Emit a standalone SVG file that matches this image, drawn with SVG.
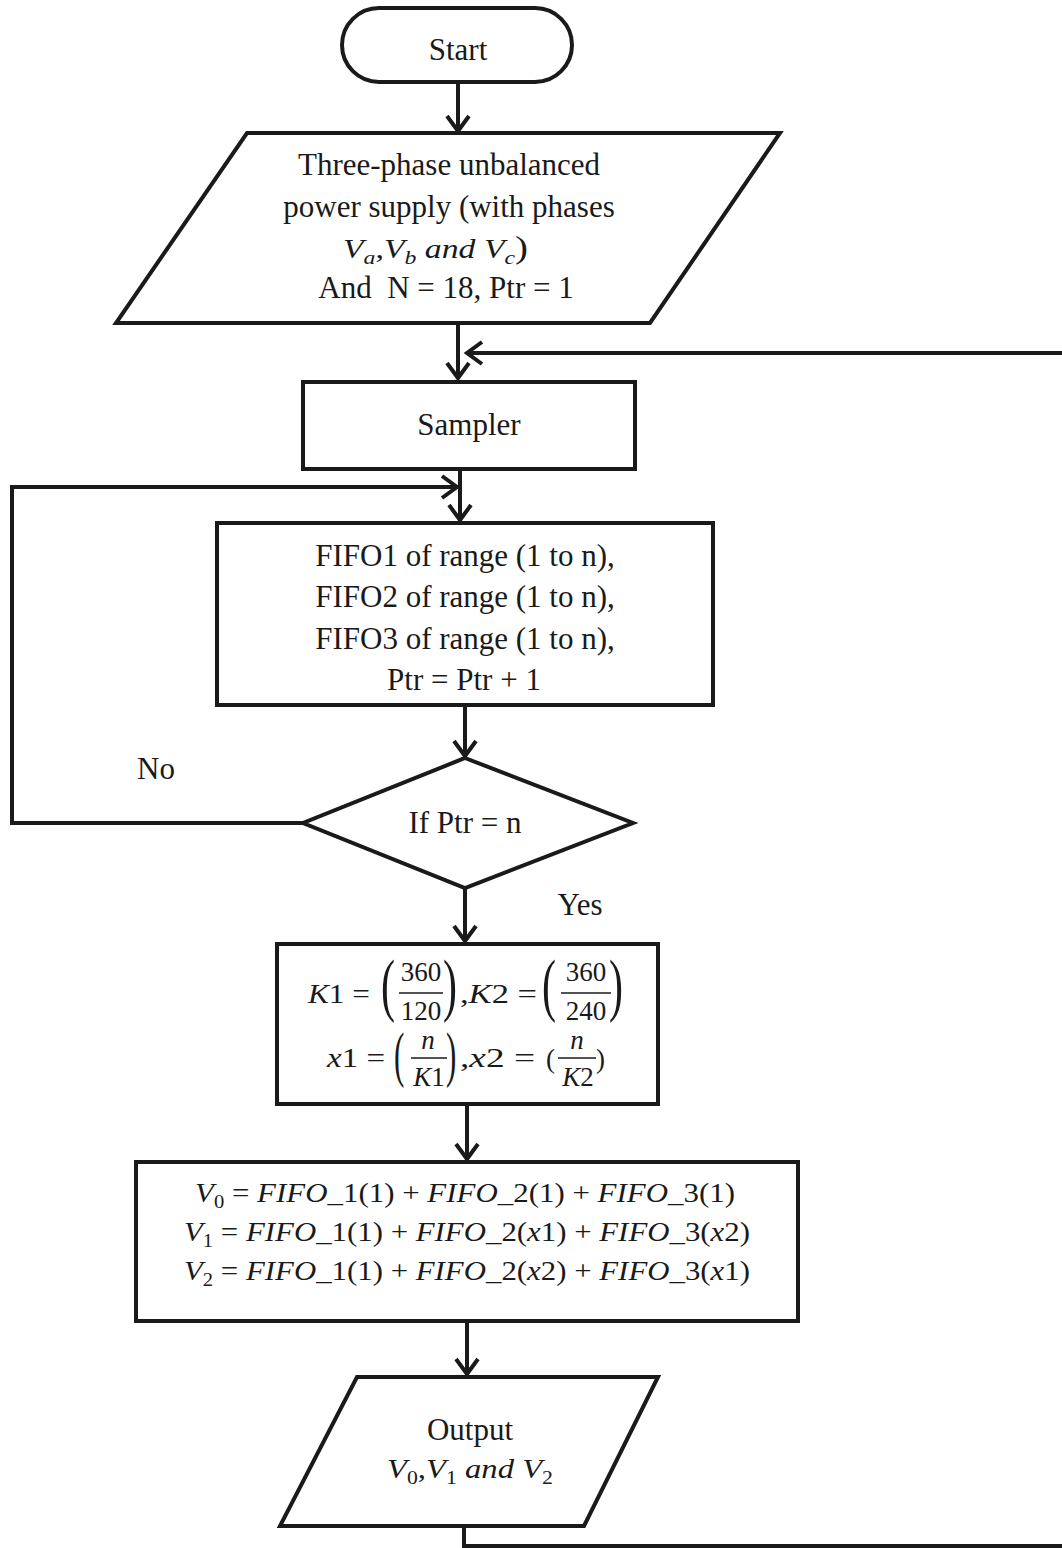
<svg xmlns="http://www.w3.org/2000/svg" width="1062" height="1548" viewBox="0 0 1062 1548">
<defs>
<style>
.sh{fill:#fff;stroke:#1a1a1a;stroke-width:4;stroke-linejoin:miter}
.cn{fill:none;stroke:#1a1a1a;stroke-width:4}
.t{font-family:"Liberation Serif","Times New Roman",serif;font-size:31px;fill:#1a1a1a;text-anchor:middle}
.m{font-family:"Liberation Serif","Times New Roman",serif;font-size:27px;fill:#1a1a1a}
.p1{font-family:"Liberation Serif","Times New Roman",serif;font-size:70px;fill:#1a1a1a}
.p2{font-family:"Liberation Serif","Times New Roman",serif;font-size:62px;fill:#1a1a1a}
.i{font-style:italic}
.c{text-anchor:middle}
.bar{stroke:#1a1a1a;stroke-width:1.6}
</style>
<marker id="ah" viewBox="-20 -14 24 28" markerWidth="24" markerHeight="28" refX="0" refY="0" orient="auto" markerUnits="userSpaceOnUse">
<path d="M-15,-11 L0,0 L-15,11" fill="none" stroke="#1a1a1a" stroke-width="4"/>
</marker>
</defs>
<rect width="1062" height="1548" fill="#fff"/>

<g id="connectors">
<path class="cn" d="M458,82 V131" marker-end="url(#ah)"/>
<path class="cn" d="M458,323 V378" marker-end="url(#ah)"/>
<path class="cn" d="M464,1526 V1546 H1080 V353 H467" marker-end="url(#ah)"/>
<path class="cn" d="M460,469 V520" marker-end="url(#ah)"/>
<path class="cn" d="M303,823 H12 V487 H457" marker-end="url(#ah)"/>
<path class="cn" d="M465,705 V756" marker-end="url(#ah)"/>
<path class="cn" d="M465,888 V941" marker-end="url(#ah)"/>
<path class="cn" d="M467,1104 V1159" marker-end="url(#ah)"/>
<path class="cn" d="M467,1321 V1374" marker-end="url(#ah)"/>
</g>

<g id="start">
<rect class="sh" x="342" y="8" width="230" height="74" rx="37"/>
<text class="t" x="458" y="60">Start</text>
</g>

<g id="input">
<polygon class="sh" points="247,133 780,133 650,323 116,323"/>
<text class="t" x="449" y="175">Three-phase unbalanced</text>
<text class="t" x="449" y="217">power supply (with phases</text>
<text class="m" x="343" y="258" textLength="185" lengthAdjust="spacingAndGlyphs"><tspan class="i">V</tspan><tspan class="i" font-size="19" dy="6">a</tspan><tspan dy="-6">,</tspan><tspan class="i">V</tspan><tspan class="i" font-size="19" dy="6">b</tspan><tspan class="i" dy="-6"> and V</tspan><tspan class="i" font-size="19" dy="6">c</tspan><tspan dy="-6" font-size="31">)</tspan></text>
<text class="t" x="446" y="298" xml:space="preserve">And  N = 18, Ptr = 1</text>
</g>

<g id="sampler">
<rect class="sh" x="303" y="382" width="332" height="87"/>
<text class="t" x="469" y="435">Sampler</text>
</g>

<g id="fifo">
<rect class="sh" x="217" y="523" width="496" height="182"/>
<text class="t" x="465" y="566">FIFO1 of range (1 to n),</text>
<text class="t" x="465" y="607">FIFO2 of range (1 to n),</text>
<text class="t" x="465" y="649">FIFO3 of range (1 to n),</text>
<text class="t" x="464" y="690">Ptr = Ptr + 1</text>
</g>

<g id="decision">
<polygon class="sh" points="465,758 633,823 465,888 303,823"/>
<text class="t" x="465" y="833">If Ptr = n</text>
<text class="t" x="156" y="779">No</text>
<text class="t" x="580" y="915">Yes</text>
</g>

<g id="kcalc">
<rect class="sh" x="277" y="944" width="381" height="160"/>
<text class="m" x="308" y="1003" textLength="62" lengthAdjust="spacingAndGlyphs"><tspan class="i">K</tspan>1 =</text>
<text class="p1" transform="translate(381,1008) scale(0.6,1)">(</text>
<text class="m c" x="421" y="981">360</text>
<line class="bar" x1="399" y1="993" x2="443" y2="993"/>
<text class="m c" x="421" y="1020">120</text>
<text class="p1" transform="translate(443,1008) scale(0.6,1)">)</text>
<text class="m" x="460" y="1003" textLength="77" lengthAdjust="spacingAndGlyphs">,<tspan class="i">K</tspan>2 =</text>
<text class="p1" transform="translate(542,1008) scale(0.6,1)">(</text>
<text class="m c" x="586" y="981">360</text>
<line class="bar" x1="561" y1="993" x2="611" y2="993"/>
<text class="m c" x="586" y="1020">240</text>
<text class="p1" transform="translate(609,1008) scale(0.6,1)">)</text>

<text class="m" x="327" y="1067" textLength="58" lengthAdjust="spacingAndGlyphs"><tspan class="i">x</tspan>1 =</text>
<text class="p2" transform="translate(394,1075) scale(0.5,1)">(</text>
<text class="m c i" x="428" y="1049">n</text>
<line class="bar" x1="411" y1="1058" x2="447" y2="1058"/>
<text class="m c i" x="429" y="1086">K<tspan font-style="normal">1</tspan></text>
<text class="p2" transform="translate(446,1075) scale(0.5,1)">)</text>
<text class="m" x="460" y="1067" textLength="75" lengthAdjust="spacingAndGlyphs">,<tspan class="i">x</tspan>2 =</text>
<text class="m" x="546" y="1068">(</text>
<text class="m c i" x="577" y="1049">n</text>
<line class="bar" x1="558" y1="1058" x2="596" y2="1058"/>
<text class="m c i" x="578" y="1086">K<tspan font-style="normal">2</tspan></text>
<text class="m" x="596" y="1068">)</text>
</g>

<g id="vcalc">
<rect class="sh" x="136" y="1162" width="662" height="159"/>
<text class="m" x="195" y="1202" textLength="540" lengthAdjust="spacingAndGlyphs"><tspan class="i">V</tspan><tspan font-size="18" dy="6">0</tspan><tspan dy="-6"> = </tspan><tspan class="i">FIFO</tspan>_1(1) + <tspan class="i">FIFO</tspan>_2(1) + <tspan class="i">FIFO</tspan>_3(1)</text>
<text class="m" x="184" y="1241" textLength="566" lengthAdjust="spacingAndGlyphs"><tspan class="i">V</tspan><tspan font-size="18" dy="6">1</tspan><tspan dy="-6"> = </tspan><tspan class="i">FIFO</tspan>_1(1) + <tspan class="i">FIFO</tspan>_2(<tspan class="i">x</tspan>1) + <tspan class="i">FIFO</tspan>_3(<tspan class="i">x</tspan>2)</text>
<text class="m" x="184" y="1280" textLength="566" lengthAdjust="spacingAndGlyphs"><tspan class="i">V</tspan><tspan font-size="18" dy="6">2</tspan><tspan dy="-6"> = </tspan><tspan class="i">FIFO</tspan>_1(1) + <tspan class="i">FIFO</tspan>_2(<tspan class="i">x</tspan>2) + <tspan class="i">FIFO</tspan>_3(<tspan class="i">x</tspan>1)</text>
</g>

<g id="output">
<polygon class="sh" points="357,1377 658,1377 584,1526 280,1526"/>
<text class="t" x="470" y="1440">Output</text>
<text class="m" x="387" y="1478" textLength="166" lengthAdjust="spacingAndGlyphs"><tspan class="i">V</tspan><tspan font-size="18" dy="6">0</tspan><tspan dy="-6">,</tspan><tspan class="i">V</tspan><tspan font-size="18" dy="6">1</tspan><tspan class="i" dy="-6"> and V</tspan><tspan font-size="18" dy="6">2</tspan></text>
</g>
</svg>
